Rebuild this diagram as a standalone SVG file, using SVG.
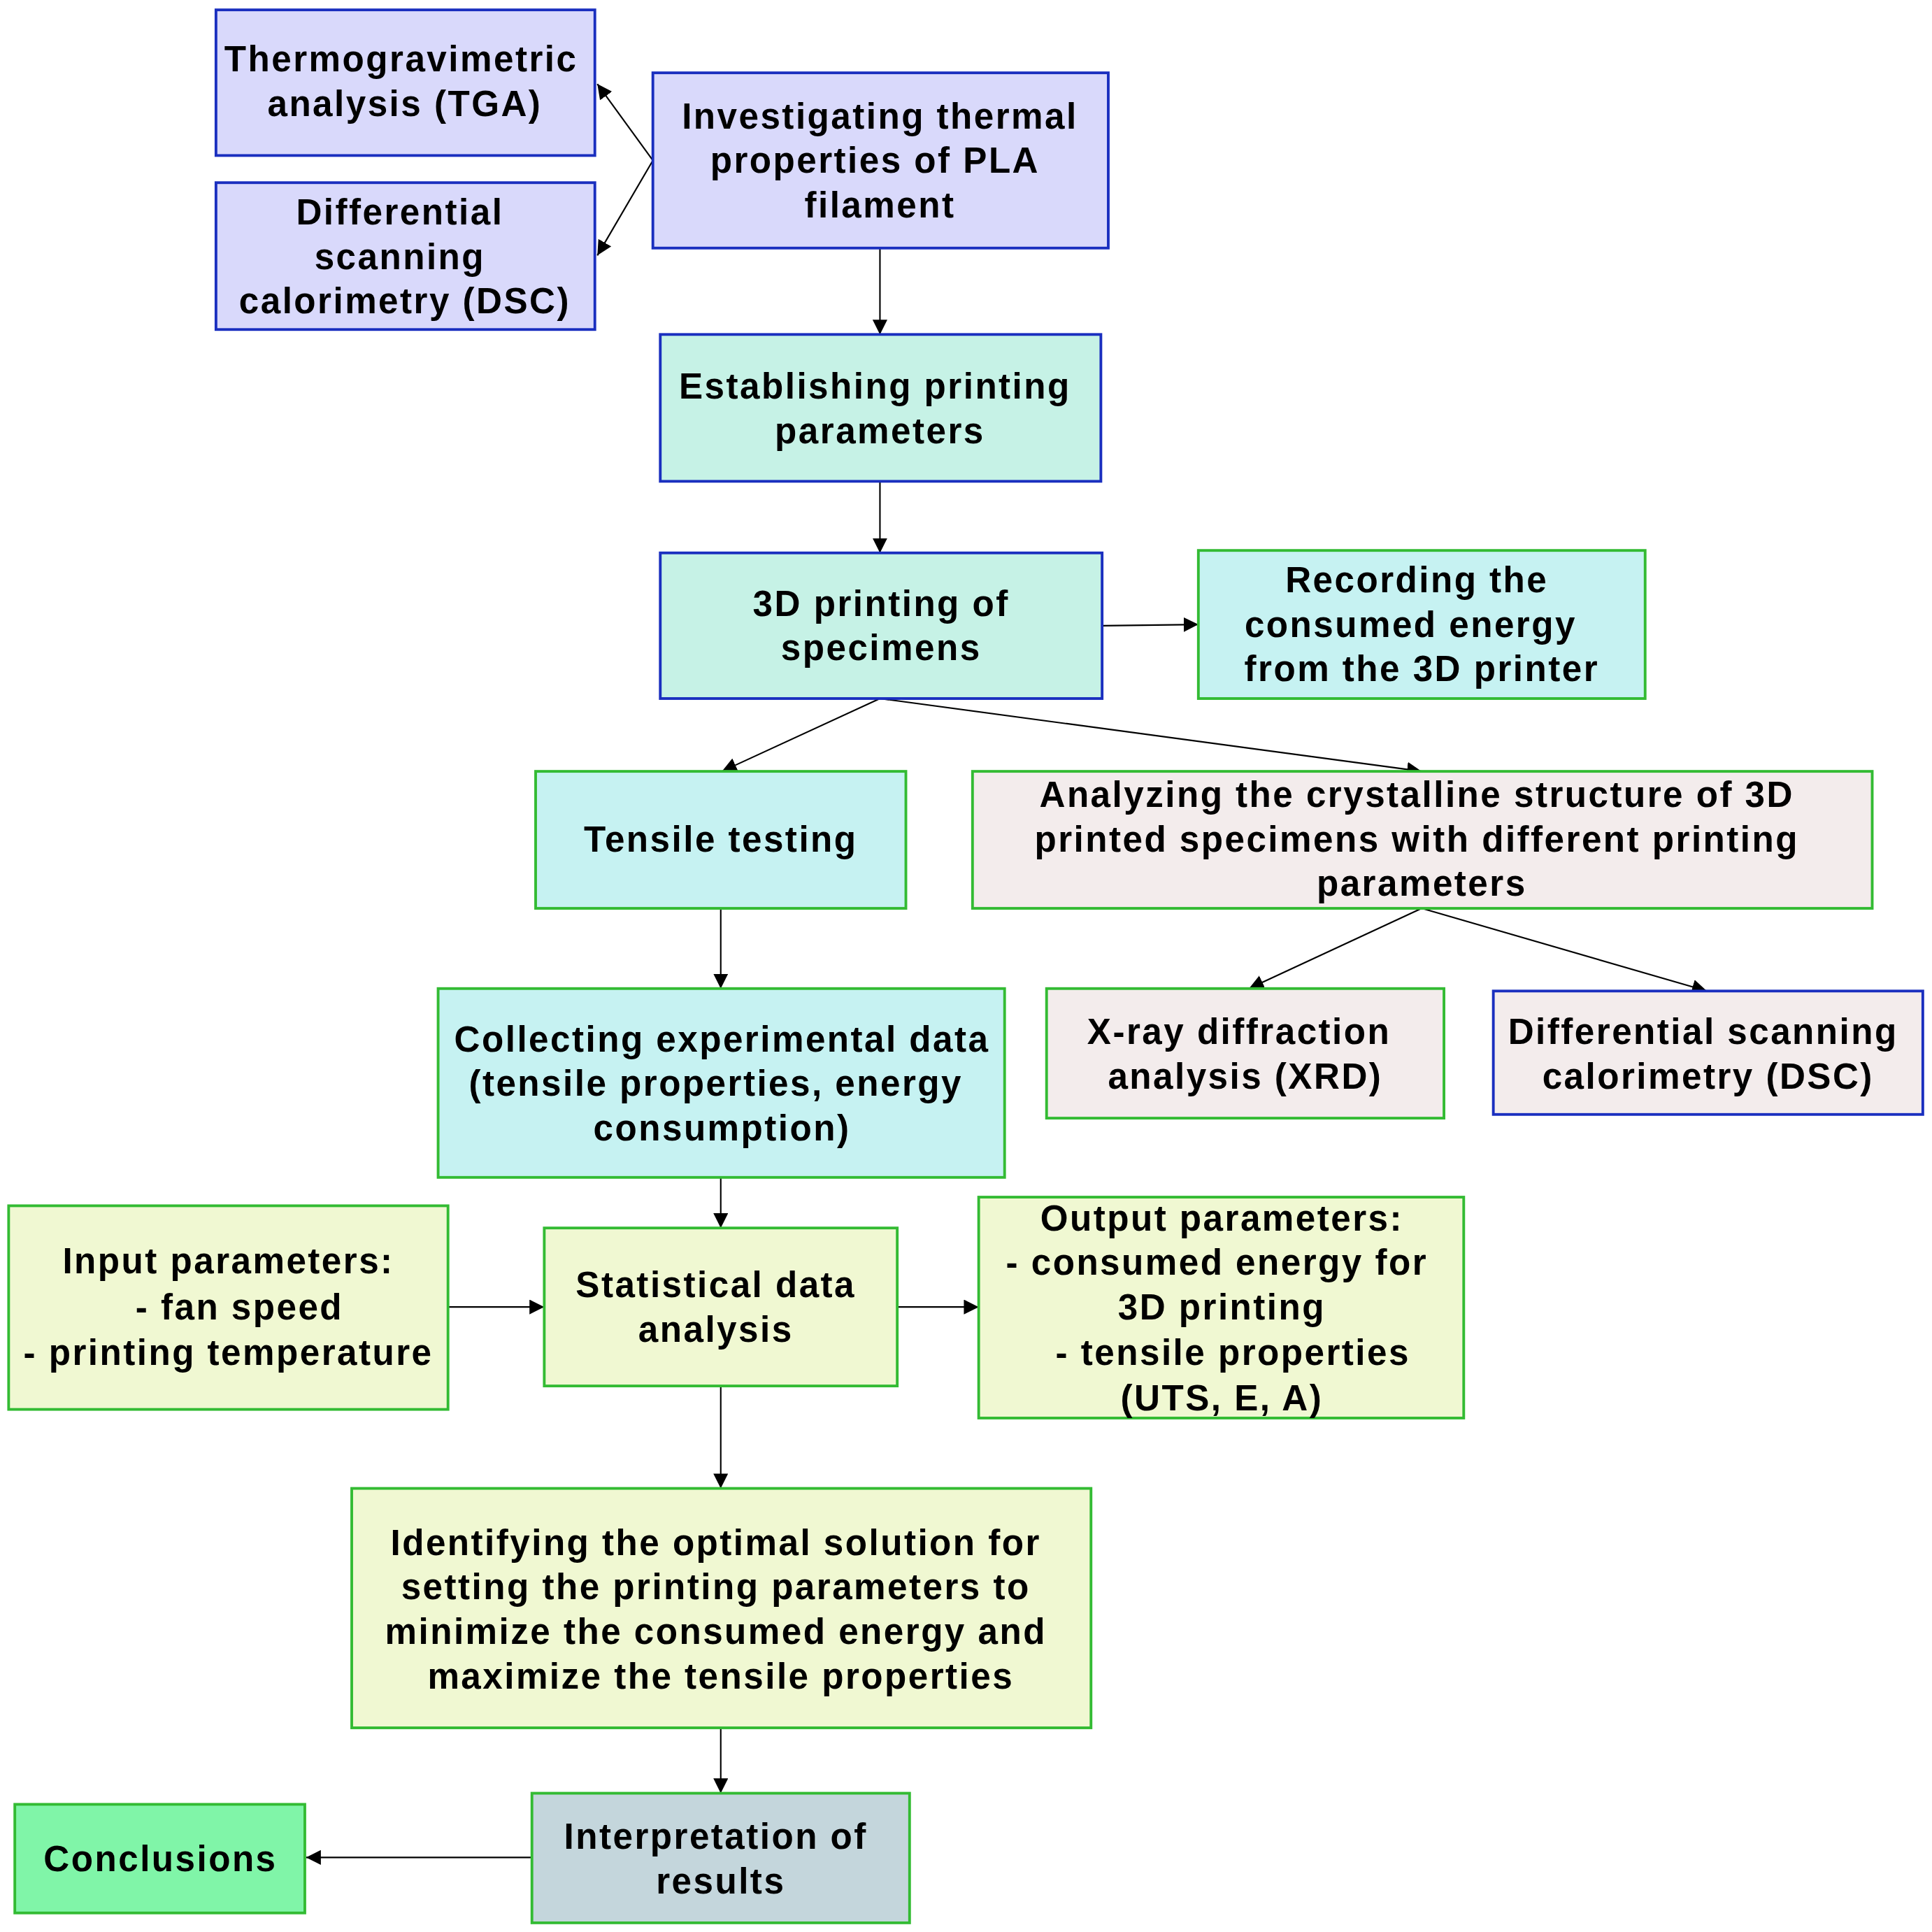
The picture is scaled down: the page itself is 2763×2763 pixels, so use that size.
<svg xmlns="http://www.w3.org/2000/svg" width="2763" height="2763" viewBox="0 0 2763 2763">
<style>
text{font-family:"Liberation Sans",Arial,sans-serif;font-weight:bold;font-size:29px;letter-spacing:1.4px;fill:#000;text-anchor:middle}
rect{stroke-width:2.2}
.lav{fill:#d9d9fb;stroke:#1a2fbf}
.mintb{fill:#c6f2e6;stroke:#1a2fbf}
.cyan{fill:#c6f2f2;stroke:#33bb33}
.pink{fill:#f3ecec;stroke:#33bb33}
.pinkb{fill:#f3ecec;stroke:#1a2fbf}
.lime{fill:#f0f8d2;stroke:#33bb33}
.concl{fill:#80f5a8;stroke:#33bb33}
.interp{fill:#c4d6dc;stroke:#33bb33}
#connectors line{stroke:#000;stroke-width:1.2;marker-end:url(#ah)}
</style>
<defs><marker id="ah" viewBox="0 0 10 10" refX="10" refY="5" markerWidth="12" markerHeight="12" markerUnits="userSpaceOnUse" orient="auto"><path d="M0,0L10,5L0,10z" fill="#000"/></marker></defs>
<rect width="2763" height="2763" fill="#fff"/>
<g transform="scale(1.765)">
<g id="connectors">
<line x1="529" y1="130" x2="484" y2="68"/>
<line x1="529" y1="130" x2="484" y2="207"/>
<line x1="713" y1="201" x2="713" y2="271"/>
<line x1="713" y1="390" x2="713" y2="448"/>
<line x1="893" y1="507" x2="971" y2="506"/>
<line x1="713" y1="566" x2="585" y2="625"/>
<line x1="713" y1="566" x2="1152" y2="625"/>
<line x1="584" y1="736" x2="584" y2="801"/>
<line x1="1152" y1="736" x2="1012" y2="801"/>
<line x1="1152" y1="736" x2="1383" y2="803"/>
<line x1="584" y1="954" x2="584" y2="995"/>
<line x1="363" y1="1059" x2="441" y2="1059"/>
<line x1="727" y1="1059" x2="793" y2="1059"/>
<line x1="584" y1="1123" x2="584" y2="1206"/>
<line x1="584" y1="1400" x2="584" y2="1453"/>
<line x1="431" y1="1505" x2="248" y2="1505"/>
</g>
<g id="tga"><rect class="lav" x="175" y="8" width="307" height="118"/><text x="325" y="58">Thermogravimetric</text><text x="328" y="94">analysis (TGA)</text></g>
<g id="dsc1"><rect class="lav" x="175" y="148" width="307" height="119"/><text x="324" y="182">Differential</text><text x="324" y="218">scanning</text><text x="328" y="254">calorimetry (DSC)</text></g>
<g id="investigating"><rect class="lav" x="529" y="59" width="369" height="142"/><text x="713" y="104">Investigating thermal</text><text x="709" y="140">properties of PLA</text><text x="713" y="176">filament</text></g>
<g id="establishing"><rect class="mintb" x="535" y="271" width="357" height="119"/><text x="709" y="323">Establishing printing</text><text x="713" y="359">parameters</text></g>
<g id="printing"><rect class="mintb" x="535" y="448" width="358" height="118"/><text x="714" y="499">3D printing of</text><text x="714" y="535">specimens</text></g>
<g id="recording"><rect class="cyan" x="971" y="446" width="362" height="120"/><text x="1148" y="480">Recording the</text><text x="1143" y="516">consumed energy</text><text x="1152" y="552">from the 3D printer</text></g>
<g id="tensile"><rect class="cyan" x="434" y="625" width="300" height="111"/><text x="584" y="690">Tensile testing</text></g>
<g id="analyzing"><rect class="pink" x="788" y="625" width="729" height="111"/><text x="1148" y="654">Analyzing the crystalline structure of 3D</text><text x="1148" y="690">printed specimens with different printing</text><text x="1152" y="726">parameters</text></g>
<g id="xrd"><rect class="pink" x="848" y="801" width="322" height="105"/><text x="1004" y="846">X-ray diffraction</text><text x="1009" y="882">analysis (XRD)</text></g>
<g id="dsc2"><rect class="pinkb" x="1210" y="803" width="348" height="100"/><text x="1380" y="846">Differential scanning</text><text x="1384" y="882">calorimetry (DSC)</text></g>
<g id="collecting"><rect class="cyan" x="355" y="801" width="459" height="153"/><text x="585" y="852">Collecting experimental data</text><text x="580" y="888">(tensile properties, energy</text><text x="585" y="924">consumption)</text></g>
<g id="input"><rect class="lime" x="7" y="977" width="356" height="165"/><text x="185" y="1032">Input parameters:</text><text x="194" y="1069">- fan speed</text><text x="185" y="1106">- printing temperature</text></g>
<g id="statistical"><rect class="lime" x="441" y="995" width="286" height="128"/><text x="580" y="1051">Statistical data</text><text x="580" y="1087">analysis</text></g>
<g id="output"><rect class="lime" x="793" y="970" width="393" height="179"/><text x="990" y="997">Output parameters:</text><text x="986" y="1033">- consumed energy for</text><text x="990" y="1069">3D printing</text><text x="999" y="1106">- tensile properties</text><text x="990" y="1143">(UTS, E, A)</text></g>
<g id="identifying"><rect class="lime" x="285" y="1206" width="599" height="194"/><text x="580" y="1260">Identifying the optimal solution for</text><text x="580" y="1296">setting the printing parameters to</text><text x="580" y="1332">minimize the consumed energy and</text><text x="584" y="1368">maximize the tensile properties</text></g>
<g id="interpretation"><rect class="interp" x="431" y="1453" width="306" height="105"/><text x="580" y="1498">Interpretation of</text><text x="584" y="1534">results</text></g>
<g id="conclusions"><rect class="concl" x="12" y="1462" width="235" height="88"/><text x="130" y="1516">Conclusions</text></g>
</g>
</svg>
